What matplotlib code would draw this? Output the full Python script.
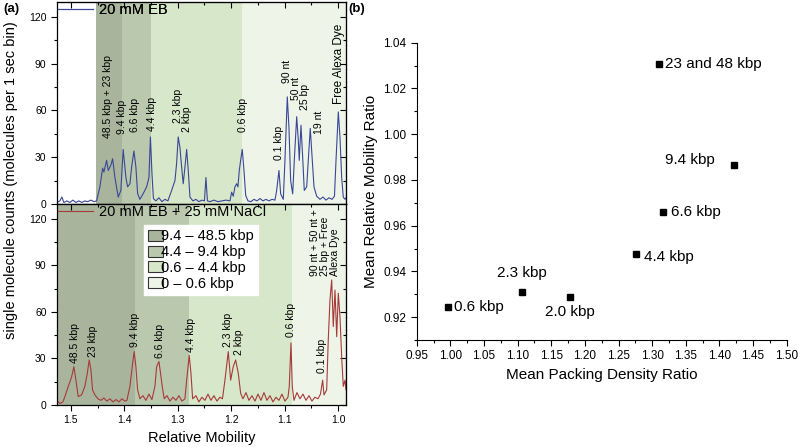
# Electrophoretic mobility traces (a) and packing density vs mobility ratio (b)

import numpy as np
import matplotlib
matplotlib.use("Agg")
import matplotlib.pyplot as plt
from matplotlib.patches import Patch
from matplotlib.ticker import MultipleLocator

plt.rcParams['font.family'] = ['Liberation Sans', 'DejaVu Sans']

# ---- panel (a), top trace: 20 mM EB ----
top_x = [1.5262, 1.5206, 1.5169, 1.5131, 1.5075, 1.5019, 1.4963, 1.4906, 1.4850, 1.4794,
         1.4738, 1.4682, 1.4625, 1.4569, 1.4519, 1.4457, 1.4406, 1.4382, 1.4331, 1.4301,
         1.4251, 1.4219, 1.4176, 1.4114, 1.4064, 1.4021, 1.3970, 1.3938, 1.3895, 1.3863,
         1.3820, 1.3783, 1.3751, 1.3708, 1.3646, 1.3582, 1.3539, 1.3511, 1.3483, 1.3455,
         1.3408, 1.3352, 1.3296, 1.3240, 1.3184, 1.3114, 1.3052, 1.3021, 1.2991, 1.2959,
         1.2927, 1.2897, 1.2865, 1.2833, 1.2803, 1.2771, 1.2715, 1.2659, 1.2603, 1.2547,
         1.2500, 1.2472, 1.2444, 1.2397, 1.2322, 1.2247, 1.2172, 1.2097, 1.2022, 1.1991,
         1.1961, 1.1929, 1.1897, 1.1873, 1.1848, 1.1822, 1.1792, 1.1760, 1.1728, 1.1685,
         1.1629, 1.1573, 1.1517, 1.1461, 1.1404, 1.1348, 1.1292, 1.1236, 1.1180, 1.1148,
         1.1105, 1.1073, 1.1024, 1.0993, 1.0949, 1.0918, 1.0886, 1.0848, 1.0818, 1.0773,
         1.0743, 1.0725, 1.0693, 1.0661, 1.0631, 1.0586, 1.0556, 1.0519, 1.0481, 1.0449,
         1.0399, 1.0337, 1.0281, 1.0225, 1.0169, 1.0112, 1.0066, 1.0037, 0.9994, 0.9963,
         0.9931, 0.9901, 0.9869, 0.9850]
top_y = [1, 2, 4.5, 1, 2, 1, 2.5, 1, 2, 1,
         2, 1.5, 2.5, 1.5, 2, 11, 23, 20.5, 28, 21.5,
         25, 29, 17, 4.4, 8.7, 35, 17, 11, 13, 23.7,
         34, 23.7, 6.7, 3, 6.7, 11, 17, 43, 20, 3.5,
         2, 4, 1.5, 3, 2, 8.7, 15, 26, 43, 36.5,
         23.7, 13, 23.7, 35, 21.5, 4.4, 2, 3, 1.5, 2.5,
         2, 17, 2, 1.5, 2.5, 1.5, 2, 2.5, 2, 7.6,
         5, 11, 13, 11, 21.5, 28, 35, 21.5, 5.5, 2,
         1.5, 3, 2, 3.5, 2, 3, 2, 3, 2.5, 8.7,
         21.5, 6.5, 3, 28, 68.7, 49, 15, 6.5, 28, 56,
         41, 28, 50.5, 30, 8.7, 11, 28, 48.5, 28, 11,
         5, 3, 4.5, 2.5, 4, 3, 5, 28, 59, 43,
         17, 4.4, 3, 4]

# ---- panel (a), bottom trace: 20 mM EB + 25 mM NaCl ----
bot_x = [1.5262, 1.5206, 1.5150, 1.5112, 1.5051, 1.4987, 1.4944, 1.4906, 1.4863, 1.4800,
         1.4738, 1.4695, 1.4657, 1.4625, 1.4594, 1.4551, 1.4494, 1.4438, 1.4382, 1.4326,
         1.4270, 1.4213, 1.4157, 1.4101, 1.4045, 1.3989, 1.3951, 1.3895, 1.3852, 1.3815,
         1.3783, 1.3751, 1.3708, 1.3652, 1.3596, 1.3539, 1.3483, 1.3427, 1.3395, 1.3352,
         1.3320, 1.3290, 1.3253, 1.3202, 1.3146, 1.3090, 1.3034, 1.2978, 1.2921, 1.2865,
         1.2833, 1.2785, 1.2753, 1.2721, 1.2659, 1.2603, 1.2547, 1.2491, 1.2434, 1.2378,
         1.2322, 1.2266, 1.2210, 1.2163, 1.2116, 1.2054, 1.2009, 1.1961, 1.1916, 1.1867,
         1.1822, 1.1779, 1.1723, 1.1667, 1.1610, 1.1554, 1.1498, 1.1442, 1.1386, 1.1330,
         1.1273, 1.1217, 1.1161, 1.1105, 1.1049, 1.0993, 1.0936, 1.0912, 1.0880, 1.0856,
         1.0824, 1.0768, 1.0712, 1.0655, 1.0599, 1.0543, 1.0487, 1.0431, 1.0375, 1.0328,
         1.0287, 1.0262, 1.0212, 1.0182, 1.0150, 1.0118, 1.0088, 1.0056, 1.0024, 0.9994,
         0.9963, 0.9931, 0.9901, 0.9869, 0.9850]
bot_y = [3, 1, 2, 5.4, 11.8, 18, 24.7, 16, 5.4, 6.5,
         12, 20, 29, 22.6, 9.7, 6.5, 4, 3, 4.5, 2.5,
         4, 2, 3.5, 2, 4, 2.5, 3, 12, 24.7, 34.4,
         24.7, 9.7, 4, 6, 3, 7, 3.5, 12, 24.7, 28,
         20, 12, 4, 6, 2.5, 5, 3, 6, 2.5, 4,
         16, 32, 20.6, 4, 6, 2, 5, 3, 7, 3,
         6, 2.5, 5, 4, 16, 34.4, 16, 24.7, 29, 20.6,
         7.5, 4, 8, 3, 6, 2.5, 7, 3, 8, 3,
         6, 2, 5, 3, 7, 2.5, 5, 12, 40, 12,
         3, 8, 4, 7, 3, 6, 2.5, 5, 4, 7,
         16, 6.5, 9.7, 42, 67.7, 80.6, 50.5, 74, 44, 72,
         57, 31, 12, 16, 9.7]

# size-range bands (relative mobility edges)
band_names = ['9.4 – 48.5 kbp', '4.4 – 9.4 kbp', '0.6 – 4.4 kbp', '0 – 0.6 kbp']
band_colors = ['#a8b59c', '#bac9ae', '#d7e7c9', '#eef5e8']
top_edges = [1.453, 1.404, 1.350, 1.180, 0.985]
bot_edges = [1.526, 1.380, 1.279, 1.086, 0.985]

# peak labels
top_labels = ['48.5 kbp + 23 kbp', '9.4 kbp', '6.6 kbp', '4.4 kbp', '2.3 kbp', '2 kbp',
              '0.6 kbp', '0.1 kbp', '90 nt', '50 nt', '25 bp', '19 nt', 'Free Alexa Dye']
top_lab_x = [1.431, 1.4045, 1.380, 1.349, 1.300, 1.282, 1.177, 1.111, 1.095, 1.079, 1.062, 1.036, 0.999]
top_lab_y = [42, 45, 46, 47, 52, 46, 46, 28, 77.5, 66.6, 60, 45, 64]

bot_labels = ['48.5 kbp', '23 kbp', '9.4 kbp', '6.6 kbp', '4.4 kbp', '2.3 kbp', '2 kbp',
              '0.6 kbp', '0.1 kbp', '90 nt + 50 nt +\n25 bp + Free\nAlexa Dye']
bot_lab_x = [1.4925, 1.4582, 1.380, 1.333, 1.276, 1.206, 1.186, 1.088, 1.030, 1.0245]
bot_lab_y = [27, 31, 37.6, 30, 34, 37.6, 32, 44, 20.6, 83]

# ---- panel (b) ----
packing = [0.997, 1.1065, 1.1773, 1.2760, 1.3157, 1.4222, 1.3102]
mobility = [0.9245, 0.9308, 0.9289, 0.9474, 0.9660, 0.9864, 1.0305]
point_labels = ['0.6 kbp', '2.3 kbp', '2.0 kbp', '4.4 kbp', '6.6 kbp', '9.4 kbp', '23 and 48 kbp']

fig = plt.figure(figsize=(8, 4.47), dpi=100)
ax1 = fig.add_axes([0.07125, 0.5436, 0.36125, 0.4519])
ax2 = fig.add_axes([0.07125, 0.094, 0.36125, 0.4496], sharex=ax1)
axb = fig.add_axes([0.5209, 0.2394, 0.4625, 0.6651])

xmin, xmax = 1.526, 0.985
for ax, edges in [(ax1, top_edges), (ax2, bot_edges)]:
    for i in range(len(edges) - 1):
        ax.axvspan(edges[i], edges[i + 1], color=band_colors[i], lw=0, zorder=0)

l1, = ax1.plot(top_x, top_y, color='#3a4796', lw=0.8, label='20 mM EB')
l2, = ax2.plot(bot_x, bot_y, color='#a63a3a', lw=0.8, label='20 mM EB + 25 mM NaCl')

for ax, line in [(ax1, l1), (ax2, l2)]:
    ax.set_xlim(xmin, xmax)
    ax.set_ylim(0, 129.5)
    ax.yaxis.set_major_locator(MultipleLocator(30))
    ax.yaxis.set_minor_locator(MultipleLocator(15))
    ax.xaxis.set_major_locator(MultipleLocator(0.1))
    ax.xaxis.set_minor_locator(MultipleLocator(0.05))
    ax.tick_params(which='both', direction='out', labelsize=7.5, width=0.8)
    ax.tick_params(which='major', length=4)
    ax.tick_params(which='minor', length=2.5)
    for s in ax.spines.values():
        s.set_linewidth(0.9)
    # inward ticks on the right and top edges
    sy = ax.secondary_yaxis('right')
    sy.yaxis.set_major_locator(MultipleLocator(30))
    sy.yaxis.set_minor_locator(MultipleLocator(15))
    sy.tick_params(which='both', direction='in', labelright=False, width=0.8)
    sy.tick_params(which='major', length=4)
    sy.tick_params(which='minor', length=2.5)
    sx = ax.secondary_xaxis('top')
    sx.xaxis.set_major_locator(MultipleLocator(0.1))
    sx.xaxis.set_minor_locator(MultipleLocator(0.05))
    sx.tick_params(which='both', direction='in', labeltop=False, width=0.8)
    sx.tick_params(which='major', length=4)
    sx.tick_params(which='minor', length=2.5)
    leg = ax.legend(handles=[line], loc='upper left', frameon=False, fontsize=10.5,
                    borderaxespad=0.0, borderpad=0.1, handlelength=2.4, handletextpad=0.35)
    ax.add_artist(leg)
plt.setp(ax1.get_xticklabels(), visible=False)

for t, x, y in zip(top_labels, top_lab_x, top_lab_y):
    fs = 8.5 if t.startswith('Free') else 7.5
    ax1.text(x, y, t, rotation=90, ha='center', va='bottom', fontsize=fs)
for t, x, y in zip(bot_labels, bot_lab_x, bot_lab_y):
    ax2.text(x, y, t, rotation=90, ha='center', va='bottom', fontsize=7.5,
             multialignment='left', linespacing=1.0)

handles = [Patch(facecolor=c, edgecolor='#333333', lw=0.8) for c in band_colors]
ax2.legend(handles, band_names, loc='upper left', bbox_to_anchor=(0.30, 0.895),
           fontsize=10.5, frameon=True, fancybox=False, edgecolor='white', framealpha=1,
           borderaxespad=0, borderpad=0.3, labelspacing=0.12, handlelength=1.0,
           handleheight=0.8, handletextpad=-0.1)

ax2.set_xlabel('Relative Mobility', fontsize=10.5)
fig.text(0.014, 0.597, 'single molecule counts (molecules per 1 sec bin)', rotation=90,
         ha='center', va='center', fontsize=10.5)

# ---- panel (b) ----
axb.plot(packing, mobility, 's', color='black', ms=5)
axb.set_xlim(0.95, 1.50)
axb.set_ylim(0.91, 1.04)
axb.xaxis.set_minor_locator(MultipleLocator(0.025))
axb.yaxis.set_minor_locator(MultipleLocator(0.01))
axb.set_xticks(np.arange(0.95, 1.501, 0.05))
axb.set_xticklabels(['%.2f' % v for v in np.arange(0.95, 1.501, 0.05)])
axb.set_yticks([0.92, 0.94, 0.96, 0.98, 1.00, 1.02, 1.04])
axb.set_yticklabels(['0.92', '0.94', '0.96', '0.98', '1.00', '1.02', '1.04'])
axb.tick_params(which='both', direction='out', labelsize=8.5, width=0.8)
axb.tick_params(which='major', length=4)
axb.tick_params(which='minor', length=2.5)
axb.spines['top'].set_visible(False)
axb.spines['right'].set_visible(False)
axb.set_xlabel('Mean Packing Density Ratio', fontsize=11)
axb.set_ylabel('Mean Relative Mobility Ratio', fontsize=11)

offsets = [(4, 0, 'left', 'center'), (0, 9, 'center', 'bottom'), (0, -6, 'center', 'top'),
           (6, -2, 'left', 'center'), (6, 0, 'left', 'center'), (-14, 4, 'right', 'center'),
           (4, 0, 'left', 'center')]
for t, x, y, (dx, dy, ha, va) in zip(point_labels, packing, mobility, offsets):
    axb.annotate(t, (x, y), xytext=(dx, dy), textcoords='offset points', ha=ha, va=va,
                 fontsize=11)

fig.text(0.004, 0.973, '(a)', fontsize=9.5, fontweight='bold')
fig.text(0.435, 0.973, '(b)', fontsize=9.5, fontweight='bold')

fig.savefig('out.png', dpi=100)
